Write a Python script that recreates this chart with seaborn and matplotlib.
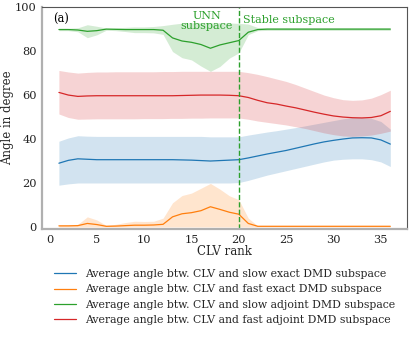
import numpy as np
import pandas as pd
import matplotlib
matplotlib.use('Agg')
import matplotlib.pyplot as plt
import seaborn as sns

# CLV rank 1..36
rank = list(range(1, 37))

# slow exact DMD (blue)
slow_exact = [29.0, 30.3, 31.0, 30.8, 30.6, 30.6, 30.6, 30.6, 30.6, 30.6, 30.6, 30.6,
              30.6, 30.5, 30.4, 30.2, 30.0, 30.2, 30.4, 30.6, 31.4, 32.3, 33.2, 34.0,
              34.8, 35.8, 36.8, 37.8, 38.7, 39.4, 40.0, 40.5, 40.6, 40.5, 39.6, 37.7]
slow_exact_hi = [39.0, 40.5, 41.5, 41.3, 41.2, 41.2, 41.2, 41.2, 41.2, 41.2, 41.2, 41.2,
                 41.2, 41.2, 41.2, 41.2, 41.0, 41.0, 41.0, 41.0, 41.8, 42.5, 43.2, 43.8,
                 44.5, 45.2, 46.0, 46.8, 47.6, 48.4, 49.2, 49.8, 49.8, 49.4, 48.0, 44.5]
slow_exact_lo = [19.0, 19.6, 20.0, 20.0, 20.0, 20.0, 20.0, 20.0, 20.0, 20.0, 20.0, 20.0,
                 20.0, 20.0, 20.0, 20.0, 20.0, 20.0, 20.0, 20.2, 21.2, 22.4, 23.6, 24.6,
                 25.6, 26.6, 27.6, 28.6, 29.6, 30.4, 30.8, 31.0, 31.0, 30.6, 29.6, 27.5]

# fast exact DMD (orange)
fast_exact = [0.5, 0.5, 0.6, 1.6, 1.1, 0.3, 0.4, 0.6, 0.8, 0.8, 0.9, 1.2,
              4.6, 6.0, 6.5, 7.4, 9.2, 8.0, 6.7, 5.8, 1.6, 0.3, 0.3, 0.3,
              0.3, 0.3, 0.3, 0.3, 0.3, 0.3, 0.3, 0.3, 0.3, 0.3, 0.3, 0.3]
fast_exact_hi = [0.8, 0.9, 1.2, 4.6, 3.2, 0.7, 1.2, 2.0, 2.6, 2.5, 2.6, 4.0,
                 11.0, 14.3, 15.4, 17.6, 19.8, 17.2, 14.2, 12.4, 4.0, 0.5, 0.4, 0.4,
                 0.4, 0.4, 0.4, 0.4, 0.4, 0.4, 0.4, 0.4, 0.4, 0.4, 0.4, 0.4]
fast_exact_lo = [0.0] * 36

# slow adjoint DMD (green)
slow_adj = [89.8, 89.8, 89.6, 89.0, 89.3, 90.0, 89.9, 89.8, 89.8, 89.8, 89.8, 89.5,
            86.0, 84.6, 84.0, 83.0, 81.3, 82.8, 83.8, 84.8, 88.6, 89.8, 90.0, 90.0,
            90.0, 90.0, 90.0, 90.0, 90.0, 90.0, 90.0, 90.0, 90.0, 90.0, 90.0, 90.0]
slow_adj_hi = [90.4, 90.4, 90.6, 92.0, 91.3, 90.5, 90.6, 90.8, 91.0, 91.0, 91.2, 91.6,
               92.2, 92.7, 92.9, 92.9, 92.9, 92.9, 92.8, 92.6, 92.3, 90.7, 90.6, 90.6,
               90.6, 90.6, 90.6, 90.6, 90.6, 90.6, 90.6, 90.6, 90.6, 90.6, 90.6, 90.6]
slow_adj_lo = [89.3, 89.3, 88.8, 86.1, 87.4, 89.5, 89.3, 88.9, 88.4, 88.4, 88.3, 87.6,
               79.8, 77.0, 76.0, 73.2, 70.8, 73.0, 76.8, 79.2, 87.5, 89.3, 89.4, 89.4,
               89.4, 89.4, 89.4, 89.4, 89.4, 89.4, 89.4, 89.4, 89.4, 89.4, 89.4, 89.4]

# fast adjoint DMD (red)
fast_adj = [61.2, 60.0, 59.4, 59.6, 59.7, 59.7, 59.7, 59.7, 59.7, 59.7, 59.7, 59.7,
            59.7, 59.8, 59.9, 60.0, 60.0, 60.0, 59.9, 59.7, 58.9, 57.6, 56.5, 55.9,
            55.0, 54.2, 53.2, 52.2, 51.3, 50.5, 50.0, 49.7, 49.6, 49.8, 50.6, 52.6]
fast_adj_hi = [71.2, 70.5, 70.0, 70.3, 70.5, 70.5, 70.6, 70.6, 70.6, 70.6, 70.6, 70.7,
               70.7, 70.8, 70.8, 70.8, 70.8, 70.8, 70.8, 70.8, 70.2, 69.4, 68.4, 67.3,
               66.2, 64.8, 63.2, 61.6, 60.0, 58.8, 57.9, 57.6, 57.8, 58.6, 60.2, 62.2]
fast_adj_lo = [51.4, 49.8, 49.0, 49.1, 49.2, 49.2, 49.2, 49.2, 49.2, 49.3, 49.3, 49.3,
               49.4, 49.4, 49.5, 49.5, 49.6, 49.6, 49.6, 49.6, 49.0, 48.2, 47.6, 47.0,
               46.4, 45.6, 44.8, 43.8, 42.8, 42.0, 41.4, 41.2, 41.4, 41.8, 42.6, 43.6]

labels = ['Average angle btw. CLV and slow exact DMD subspace',
          'Average angle btw. CLV and fast exact DMD subspace',
          'Average angle btw. CLV and slow adjoint DMD subspace',
          'Average angle btw. CLV and fast adjoint DMD subspace']
colors = ['#1f77b4', '#ff7f0e', '#2ca02c', '#d62728']

means = [slow_exact, fast_exact, slow_adj, fast_adj]
highs = [slow_exact_hi, fast_exact_hi, slow_adj_hi, fast_adj_hi]
lows = [slow_exact_lo, fast_exact_lo, slow_adj_lo, fast_adj_lo]

# long table for seaborn
df = pd.concat([pd.DataFrame({'rank': rank, 'angle': m, 'series': lab})
                for m, lab in zip(means, labels)], ignore_index=True)

sns.set_style('white')
plt.rcParams['font.family'] = ['DejaVu Serif']

fig = plt.figure(figsize=(4.11, 3.40), dpi=100)
ax = fig.add_axes([0.103, 0.326, 0.887, 0.653])

# shaded spread bands
for lo, hi, c in zip(lows, highs, colors):
    ax.fill_between(rank, lo, hi, color=c, alpha=0.2, linewidth=0)

sns.lineplot(data=df, x='rank', y='angle', hue='series', hue_order=labels,
             palette=colors, linewidth=0.9, ax=ax)

# subspace divider + annotations
ax.axvline(20, color='#2ca02c', linestyle='--', linewidth=1.0)
ax.text(16.6, 93.6, 'UNN\nsubspace', color='#2ca02c', ha='center', va='center',
        fontsize=8, linespacing=0.95)
ax.text(20.4, 94.0, 'Stable subspace', color='#2ca02c', ha='left', va='center',
        fontsize=8)
ax.text(0.35, 94.2, '(a)', color='black', ha='left', va='center', fontsize=8.3)

ax.set_xlim(-0.75, 37.75)
ax.set_ylim(-1, 100)
ax.set_xticks([0, 5, 10, 15, 20, 25, 30, 35])
ax.set_yticks([0, 20, 40, 60, 80, 100])
ax.tick_params(axis='both', labelsize=8.2, length=3, width=0.8, colors='#222222',
               pad=1.0)
ax.set_xlabel('CLV rank', fontsize=8.5, labelpad=0)
ax.set_ylabel('Angle in degree', fontsize=8.5, labelpad=1)

for s in ['left', 'bottom']:
    ax.spines[s].set_color('#b0b0b0')
    ax.spines[s].set_linewidth(1.6)
for s in ['top', 'right']:
    ax.spines[s].set_color('#555555')
    ax.spines[s].set_linewidth(0.8)

handles, labs = ax.get_legend_handles_labels()
ax.legend(handles, labs, loc='upper center', bbox_to_anchor=(0.5, -0.135),
          frameon=False, fontsize=7.8, handlelength=2.0, labelspacing=0.5,
          handletextpad=0.8)

fig.savefig('out.png', dpi=100)
